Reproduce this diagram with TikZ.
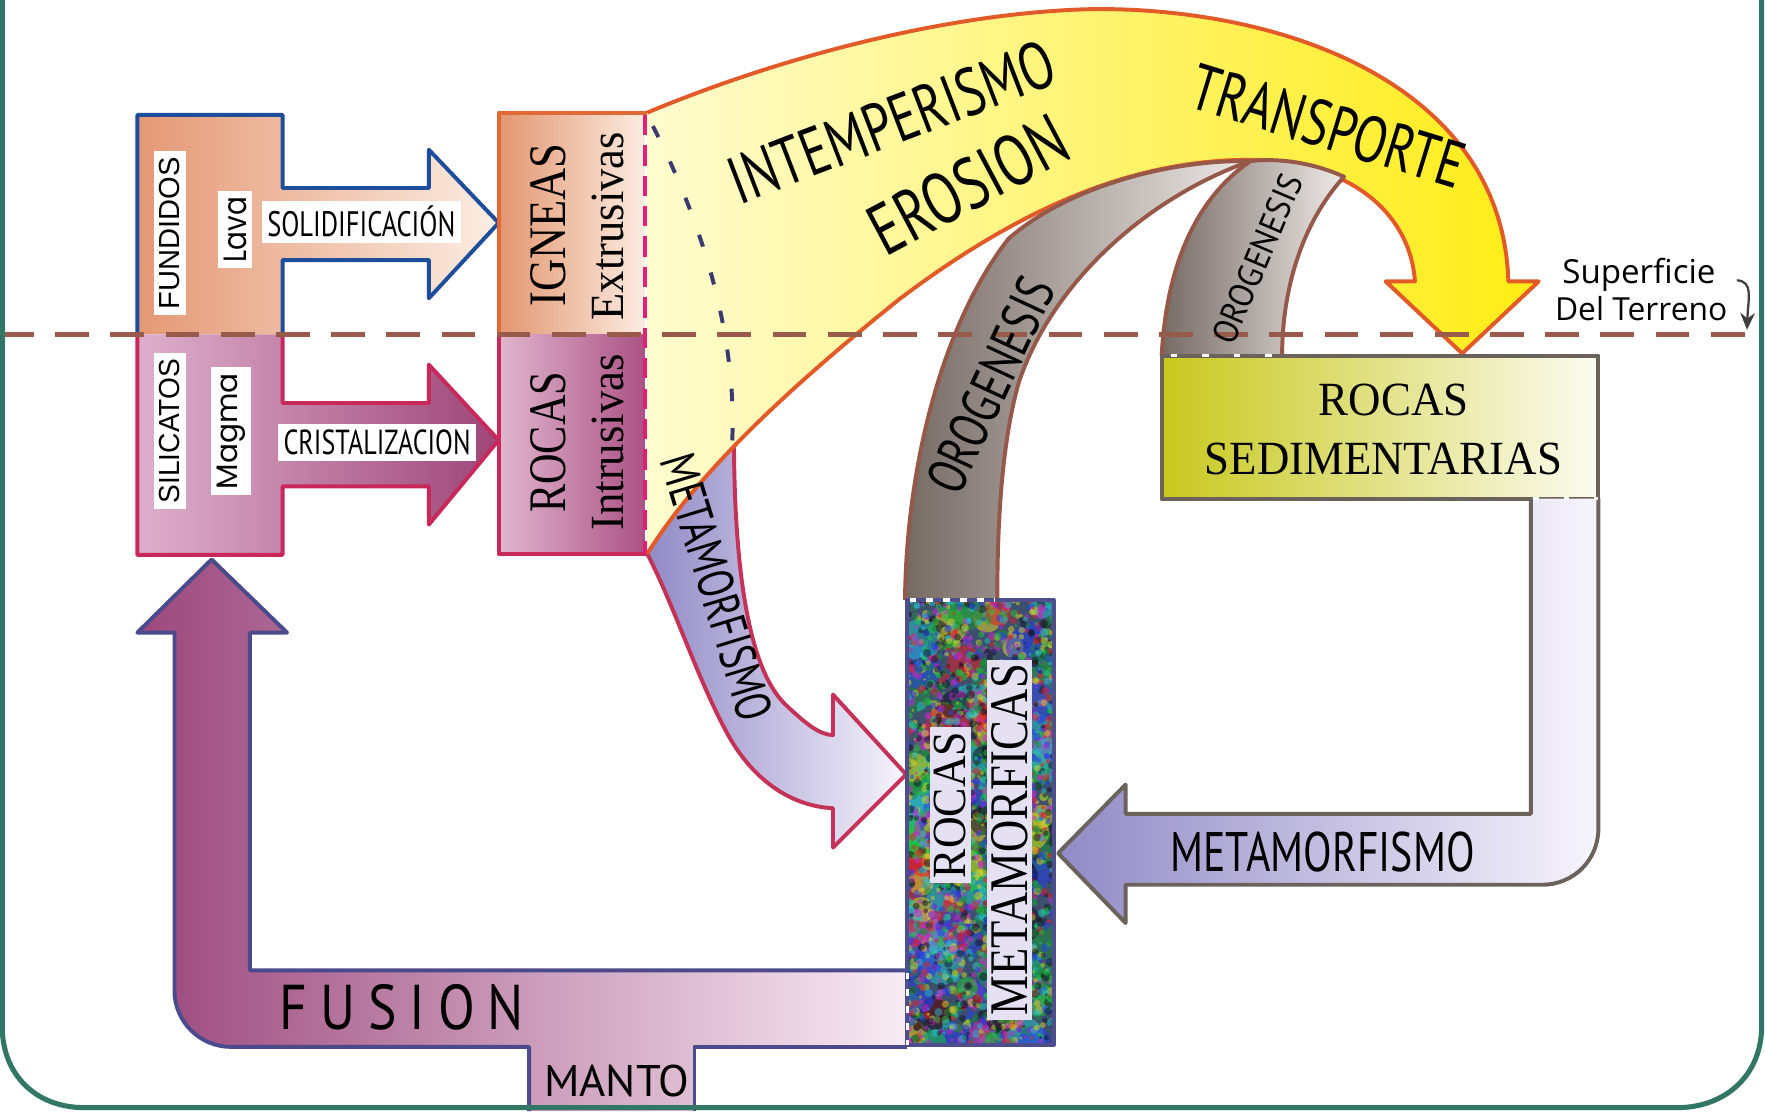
\documentclass[tikz,border=0pt]{standalone}
\usepackage{fontspec}
\usepackage{graphicx}
\setmainfont{Liberation Serif}
\newfontfamily\handf[FakeStretch=0.75]{PT Sans}
\newfontfamily\sansf{Liberation Sans}
\newfontfamily\geof{Poppins}
\newfontfamily\notef{Open Sans}
\usetikzlibrary{arrows.meta}

\definecolor{frameC}{RGB}{50,118,102}
\definecolor{fundB}{RGB}{30,78,155}
\definecolor{fundL}{RGB}{228,152,116}
\definecolor{fundR}{RGB}{251,238,228}
\definecolor{igL}{RGB}{226,150,112}
\definecolor{igR}{RGB}{252,236,226}
\definecolor{igB}{RGB}{226,104,52}
\definecolor{silB}{RGB}{200,40,90}
\definecolor{silL}{RGB}{222,176,204}
\definecolor{silR}{RGB}{158,70,120}
\definecolor{rocL}{RGB}{225,182,206}
\definecolor{rocR}{RGB}{170,82,132}
\definecolor{yelA}{RGB}{255,252,208}
\definecolor{yelM}{RGB}{255,247,160}
\definecolor{yelC}{RGB}{255,236,20}
\definecolor{yelB}{RGB}{226,90,40}
\definecolor{grayL}{RGB}{118,106,100}
\definecolor{grayR}{RGB}{238,234,232}
\definecolor{bandB}{RGB}{150,88,72}
\definecolor{purL}{RGB}{146,138,198}
\definecolor{purR}{RGB}{247,245,252}
\definecolor{purB}{RGB}{196,50,88}
\definecolor{sedL}{RGB}{200,200,30}
\definecolor{sedR}{RGB}{252,252,242}
\definecolor{sedB}{RGB}{108,98,92}
\definecolor{metB}{RGB}{78,78,140}
\definecolor{metbase}{RGB}{60,80,110}
\definecolor{metbg}{RGB}{230,225,242}
\definecolor{fusL}{RGB}{155,72,124}
\definecolor{fusR}{RGB}{248,236,244}
\definecolor{fusB}{RGB}{74,74,140}
\definecolor{surfC}{RGB}{152,90,74}
\definecolor{pinkD}{RGB}{226,30,120}
\definecolor{navyD}{RGB}{58,58,112}
\definecolor{mc0}{RGB}{230,30,40}
\definecolor{mc1}{RGB}{30,200,60}
\definecolor{mc2}{RGB}{40,60,230}
\definecolor{mc3}{RGB}{200,40,200}
\definecolor{mc4}{RGB}{220,210,40}
\definecolor{mc5}{RGB}{20,20,30}
\definecolor{mc6}{RGB}{40,190,200}
\definecolor{mc7}{RGB}{30,140,60}
\definecolor{mc8}{RGB}{60,60,200}

\newcommand{\fitw}[2]{\resizebox{#1}{!}{#2}}
\newcommand{\fitwh}[3]{\resizebox{#1}{#2}{#3}}

\begin{document}
\begin{tikzpicture}[x=0.01cm, y=-0.01cm,
  lbl/.style={inner sep=0pt, text=black},
  wbox/.style={inner sep=0.5mm, fill=white},
  mbox/.style={inner sep=0.4mm, fill=metbg},
  border/.style={line width=0.35mm, line join=round}]
\useasboundingbox (0,0) rectangle (1568,987);
\fill[white] (0,0) rectangle (1568,987);

% ---------- FUNDIDOS / Lava
\path[left color=fundL, middle color=fundL!85!fundR, right color=fundR]
  (122,297) -- (122,102) -- (251,102) -- (251,167) -- (381,167) -- (381,133)
  -- (443,198) -- (381,265) -- (381,231) -- (251,231) -- (251,297) -- cycle;
\draw[border, fundB]
  (122,297) -- (122,102) -- (251,102) -- (251,167) -- (381,167) -- (381,133)
  -- (443,198) -- (381,265) -- (381,231) -- (251,231) -- (251,297);

% ---------- SILICATOS / Magma
\path[left color=silL, right color=silR]
  (122,297) -- (122,493) -- (251,493) -- (251,432) -- (381,432) -- (381,466)
  -- (443,391) -- (381,324) -- (381,358) -- (251,358) -- (251,297) -- cycle;
\draw[border, silB]
  (122,297) -- (122,493) -- (251,493) -- (251,432) -- (381,432) -- (381,466)
  -- (443,391) -- (381,324) -- (381,358) -- (251,358) -- (251,297);

% ---------- IGNEAS / ROCAS intrusivas
\path[left color=igL, right color=igR] (443,100) rectangle (573,297);
\draw[border, igB] (443,297) -- (443,100) -- (576,100);
\path[left color=rocL, right color=rocR] (443,297) rectangle (573,492);
\draw[border, silB] (443,297) -- (443,492) -- (576,492);

% ---------- left METAMORFISMO arrow
\path[left color=purL, right color=purR]
  (575,492) -- (600,420) -- (652,385)
  .. controls (652,520) and (668,600) .. (700,628)
  .. controls (715,642) and (728,653) .. (740,653)
  -- (740,617) -- (805,688) -- (740,753) -- (740,718)
  .. controls (700,716) and (668,690) .. (648,655)
  .. controls (620,605) and (600,540) .. (575,492) -- cycle;
\draw[border, purB]
  (652,385)
  .. controls (652,520) and (668,600) .. (700,628)
  .. controls (715,642) and (728,653) .. (740,653)
  -- (740,617) -- (805,688) -- (740,753) -- (740,718)
  .. controls (700,716) and (668,690) .. (648,655)
  .. controls (620,605) and (600,540) .. (575,492);

% ---------- yellow INTEMPERISMO arrow
\path[left color=yelA, middle color=yelM, right color=yelC]
  (575,100) .. controls (700,48) and (850,10) .. (975,8)
  .. controls (1150,8) and (1335,80) .. (1340,250)
  -- (1367,250) -- (1299,314) -- (1231,250) -- (1257,250)
  .. controls (1253,190) and (1200,143) .. (1110,142)
  .. controls (1000,142) and (900,190) .. (800,265)
  .. controls (700,345) and (620,420) .. (575,492) -- cycle;
\draw[border, yelB]
  (575,100) .. controls (700,48) and (850,10) .. (975,8)
  .. controls (1150,8) and (1335,80) .. (1340,250)
  -- (1367,250) -- (1299,314) -- (1231,250) -- (1257,250)
  .. controls (1253,190) and (1200,143) .. (1110,142)
  .. controls (1000,142) and (900,190) .. (800,265)
  .. controls (700,345) and (620,420) .. (575,492);

% ---------- OROGENESIS bands
\path[left color=grayL, right color=grayR]
  (804,533) .. controls (805,420) and (835,290) .. (896,212)
  .. controls (950,165) and (1040,142) .. (1111,143)
  .. controls (1020,175) and (935,250) .. (905,340)
  .. controls (888,400) and (886,480) .. (886,533) -- cycle;
\draw[border, bandB]
  (804,533) .. controls (805,420) and (835,290) .. (896,212)
  .. controls (950,165) and (1040,142) .. (1111,143)
  .. controls (1020,175) and (935,250) .. (905,340)
  .. controls (888,400) and (886,480) .. (886,533);
\path[left color=grayL, right color=grayR]
  (1032,316) .. controls (1036,240) and (1060,178) .. (1111,143)
  .. controls (1140,140) and (1170,146) .. (1194,157)
  .. controls (1155,200) and (1139,260) .. (1139,316) -- cycle;
\draw[border, bandB]
  (1032,316) .. controls (1036,240) and (1060,178) .. (1111,143)
  .. controls (1140,140) and (1170,146) .. (1194,157)
  .. controls (1155,200) and (1139,260) .. (1139,316);

% ---------- ROCAS SEDIMENTARIAS
\path[left color=sedL, right color=sedR] (1032,316) rectangle (1420,443);
\draw[border, sedB] (1032,316) rectangle (1420,443);

% ---------- right METAMORFISMO arrow
\path[left color=purL, right color=purR]
  (1360,443) -- (1360,723) -- (1000,723) -- (1000,697) -- (940,758)
  -- (1000,820) -- (1000,786) -- (1370,786)
  .. controls (1398,786) and (1420,764) .. (1420,736) -- (1420,443) -- cycle;
\draw[border, sedB]
  (1360,443) -- (1360,723) -- (1000,723) -- (1000,697) -- (940,758)
  -- (1000,820) -- (1000,786) -- (1370,786)
  .. controls (1398,786) and (1420,764) .. (1420,736) -- (1420,443);

% ---------- FUSION arrow
\path[left color=fusL, right color=fusR]
  (806,862) -- (222,862) -- (222,562) -- (255,562) -- (188,497) -- (122,562)
  -- (155,562) -- (155,880) .. controls (155,908) and (178,930) .. (205,930)
  -- (470,930) -- (470,987) -- (617,987) -- (617,930) -- (806,930) -- cycle;
\draw[border, fusB]
  (806,862) -- (222,862) -- (222,562) -- (255,562) -- (188,497) -- (122,562)
  -- (155,562) -- (155,880) .. controls (155,908) and (178,930) .. (205,930)
  -- (470,930) -- (470,987);
\draw[border, fusB] (617,987) -- (617,930) -- (806,930);

% ---------- ROCAS METAMORFICAS (textured)
\begin{scope}
  \clip (806,533) rectangle (936,928);
  \fill[metbase] (806,533) rectangle (936,928);
  \pgfmathsetseed{987}
  \foreach \i in {1,...,160}{
    \pgfmathsetmacro{\xx}{806+130*rnd}
    \pgfmathsetmacro{\yy}{533+395*rnd}
    \pgfmathtruncatemacro{\cc}{8*rnd}
    \pgfmathsetmacro{\rr}{0.8+1.2*rnd}
    \fill[mc\cc, opacity=0.55] (\xx,\yy) circle[radius=\rr mm];
  }
  \pgfmathsetseed{4321}
  \foreach \i in {1,...,2600}{
    \pgfmathsetmacro{\xx}{806+130*rnd}
    \pgfmathsetmacro{\yy}{533+395*rnd}
    \pgfmathtruncatemacro{\cc}{8*rnd}
    \pgfmathsetmacro{\rr}{0.12+0.28*rnd}
    \fill[mc\cc, opacity=0.5] (\xx,\yy) circle[radius=\rr mm];
  }
\end{scope}
\draw[border, metB] (806,533) rectangle (936,928);

% ---------- dotted joins
\draw[white, line width=0.3mm, dash pattern=on 0.6mm off 0.9mm] (808,533) -- (884,533);
\draw[white, line width=0.3mm, dash pattern=on 0.6mm off 0.9mm] (806,864) -- (806,928);
\draw[white, line width=0.3mm, dash pattern=on 0.6mm off 2.2mm] (1040,316) -- (1137,316);
\draw[white, line width=0.3mm, dash pattern=on 0.5mm off 2.2mm] (1362,443) -- (1420,443);

% ---------- dashed lines
\draw[pinkD, line width=0.4mm, dash pattern=on 1.8mm off 0.9mm] (573,102) -- (573,491);
\draw[navyD, line width=0.35mm, dash pattern=on 1.1mm off 2.4mm]
  (580,112) .. controls (640,230) and (655,330) .. (650,400);
\draw[surfC, line width=0.45mm, dash pattern=on 3mm off 1.9mm] (0,297) -- (1565,297);

% ---------- labels
\node[lbl, wbox, rotate=90] (tFund) at (151,207) {\sansf\fitwh{13.5mm}{1.8mm}{FUNDIDOS}};
\node[lbl, wbox, rotate=90] (tLava) at (209,204) {\geof\fitwh{5.8mm}{2.0mm}{Lava}};
\node[lbl, wbox, rotate=90] (tSil) at (151,383) {\sansf\fitwh{12.8mm}{1.8mm}{SILICATOS}};
\node[lbl, wbox, rotate=90] (tMagma) at (205,383) {\geof\fitw{10.3mm}{Magma}};
\node[lbl, wbox] (tSolid) at (321,197) {\handf\fitw{16.7mm}{SOLIDIFICACIÓN}};
\node[lbl, wbox] (tCrist) at (335,393) {\handf\fitw{16.6mm}{CRISTALIZACION}};
\node[lbl, rotate=90] (tIgneas) at (487,200) {\fitwh{14.5mm}{3.1mm}{IGNEAS}};
\node[lbl, rotate=90] (tExtr) at (540,201) {\fitwh{16.7mm}{2.8mm}{Extrusivas}};
\node[lbl, rotate=90] (tRocasI) at (487,393) {\fitwh{12.5mm}{3.1mm}{ROCAS}};
\node[lbl, rotate=90] (tIntr) at (540,393) {\fitwh{15.7mm}{2.8mm}{Intrusivas}};

\node[lbl, rotate=21] (tInte) at (792,108) {\handf\fitw{30.5mm}{INTEMPERISMO}};
\node[lbl, rotate=28] (tEros) at (860,164) {\handf\fitw{19mm}{EROSION}};
\node[lbl, rotate=-17] (tTrans) at (1180,112) {\handf\fitw{25mm}{TRANSPORTE}};
\node[lbl, rotate=65] (tOro1) at (880,342) {\handf\fitw{20.5mm}{OROGENESIS}};
\node[lbl, rotate=67] (tOro2) at (1117,230) {\handf\fitwh{16mm}{2.2mm}{OROGENESIS}};

\node[lbl] (tRocasS) at (1238,355) {\fitwh{13.3mm}{2.8mm}{ROCAS}};
\node[lbl] (tSedim) at (1229,408) {\fitwh{31.7mm}{2.8mm}{SEDIMENTARIAS}};
\node[lbl] (tMetaR) at (1175,757) {\handf\fitw{27mm}{METAMORFISMO}};

\node[lbl, mbox, rotate=90] (tRocasM) at (844,715) {\fitwh{13mm}{2.8mm}{ROCAS}};
\node[lbl, mbox, rotate=90] (tMetaM) at (897,746) {\fitwh{31.2mm}{3.2mm}{METAMORFICAS}};
\node[lbl, rotate=-73] (tMetaL) at (637,522) {\handf\fitw{24.5mm}{METAMORFISMO}};

\node[lbl] (tFusion) at (357,895) {\handf\addfontfeature{LetterSpace=18}\fitwh{21.7mm}{4.0mm}{FUSION}};
\node[lbl] (tManto) at (548,960) {\handf\fitwh{12.9mm}{2.8mm}{MANTO}};

\node[lbl] (tSup) at (1456,244) {\notef\fitw{13.6mm}{Superficie}};
\node[lbl] (tDel) at (1458,274) {\notef\fitw{15.3mm}{Del Terreno}};
\coordinate (supA) at (1543,249);
\coordinate (supB) at (1552,293);
\draw[line width=0.2mm, black!75, -{Stealth[length=1.5mm, width=1.3mm]}]
  (supA) .. controls (1558,250) and (1553,265) .. (supB);

% ---------- frame
\draw[line width=0.45mm, frameC]
  (2,0) -- (2,912) .. controls (2,955) and (32,984) .. (75,984)
  -- (1490,984) .. controls (1533,984) and (1565,955) .. (1565,912) -- (1565,0);
\end{tikzpicture}
\end{document}
